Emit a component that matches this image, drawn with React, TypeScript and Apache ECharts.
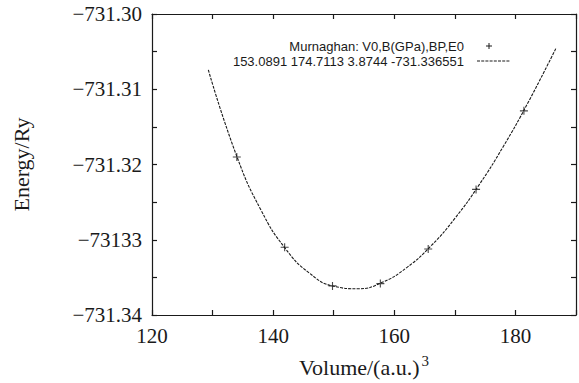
import React, { useEffect, useRef } from "react";
import * as echarts from "echarts";

// Calculated total energies (Ry) at each cell volume (a.u.^3)
const volumes = [134.0, 141.9, 149.8, 157.7, 165.6, 173.5, 181.4];
const energies = [
  -731.31901, -731.33099, -731.33613, -731.33583, -731.33122, -731.32331,
  -731.31287,
];

// Murnaghan equation-of-state fit, sampled along the curve
const fitVolumes = [
  129.3, 134, 138, 142, 146, 150, 154, 158, 162, 166, 170, 174, 178, 182,
  186.66,
];
const fitEnergies = [
  -731.30743, -731.31891, -731.32607, -731.33115, -731.33444, -731.33617,
  -731.33651, -731.33566, -731.33373, -731.33087, -731.32716, -731.32271,
  -731.3176, -731.3119, -731.3046,
];

const seriesNames = [
  "Murnaghan: V0,B(GPa),BP,E0",
  "153.0891 174.7113 3.8744 -731.336551",
];

// Labels for the energy axis, bottom to top, one per 0.01 Ry
const yTickLabels = ["−731.34", "−73133", "−731.32", "−731.31", "−731.30"];

const serif = '"Liberation Serif", "Times New Roman", serif';
const sans = '"Liberation Sans", Arial, sans-serif';
const ink = "#1a1a1a";

const plusPath =
  "path://M3.45,0H4.55V3.45H8V4.55H4.55V8H3.45V4.55H0V3.45H3.45Z";

export default function App() {
  const ref = useRef<HTMLDivElement>(null);

  useEffect(() => {
    if (!ref.current) return;
    const chart = echarts.init(ref.current, undefined, { renderer: "svg" });

    const axisLine = { show: true, lineStyle: { color: ink, width: 1.2 } };
    const axisTick = {
      show: true,
      inside: true,
      length: 5,
      lineStyle: { color: ink, width: 1.2 },
    };

    const xBase = {
      type: "value" as const,
      min: 120,
      max: 190,
      interval: 10,
      axisLine,
      axisTick,
      splitLine: { show: false },
    };
    const yBase = {
      type: "value" as const,
      min: -731.34,
      max: -731.3,
      interval: 0.005,
      axisLine,
      axisTick,
      splitLine: { show: false },
    };

    chart.setOption({
      animation: false,
      backgroundColor: "#ffffff",
      grid: { left: 152, right: 2, top: 14, bottom: 65.3, containLabel: false },
      xAxis: [
        {
          ...xBase,
          position: "bottom",
          name: "{a|Volume/(a.u.)}{s|3}",
          nameLocation: "middle",
          nameGap: 38,
          nameTextStyle: {
            fontFamily: serif,
            fontSize: 22,
            color: ink,
            rich: {
              a: {
                fontFamily: serif,
                fontSize: 22,
                color: ink,
                lineHeight: 28,
                verticalAlign: "middle",
              },
              s: {
                fontFamily: serif,
                fontSize: 15,
                color: ink,
                lineHeight: 28,
                verticalAlign: "top",
                padding: [0, 0, 0, 2],
              },
            },
          },
          axisLabel: {
            margin: 10,
            fontFamily: serif,
            fontSize: 21,
            color: ink,
            formatter: (v: number) =>
              Math.round(v) % 20 === 0 ? String(Math.round(v)) : "",
          },
        },
        {
          ...xBase,
          position: "top",
          axisLabel: { show: false },
        },
      ],
      yAxis: [
        {
          ...yBase,
          position: "left",
          name: "Energy/Ry",
          nameLocation: "middle",
          nameRotate: 90,
          nameGap: 120,
          nameTextStyle: { fontFamily: serif, fontSize: 22, color: ink },
          axisLabel: {
            margin: 10,
            fontFamily: serif,
            fontSize: 21,
            color: ink,
            formatter: (v: number) => {
              const k = Math.round((v - yBase.min) / 0.005);
              return k % 2 === 0 ? yTickLabels[k / 2] ?? "" : "";
            },
          },
        },
        {
          ...yBase,
          position: "right",
          axisLabel: { show: false },
        },
      ],
      series: [
        {
          name: seriesNames[1],
          type: "line",
          xAxisIndex: 0,
          yAxisIndex: 0,
          data: fitVolumes.map((v, i) => [v, fitEnergies[i]]),
          smooth: 0.5,
          showSymbol: false,
          lineStyle: { color: ink, width: 1.1, type: [3, 1.2] },
        },
        {
          name: seriesNames[0],
          type: "scatter",
          xAxisIndex: 0,
          yAxisIndex: 0,
          data: volumes.map((v, i) => [v, energies[i]]),
          symbol: plusPath,
          symbolSize: 8,
          itemStyle: { color: ink },
        },
      ],
      graphic: [
        {
          type: "text",
          x: 464,
          y: 46,
          style: {
            text: seriesNames[0],
            align: "right",
            verticalAlign: "middle",
            font: `13px ${sans}`,
            fill: ink,
          },
        },
        {
          type: "text",
          x: 464,
          y: 61,
          style: {
            text: seriesNames[1],
            align: "right",
            verticalAlign: "middle",
            font: `13px ${sans}`,
            fill: ink,
          },
        },
        {
          type: "line",
          shape: { x1: 486, y1: 46, x2: 492, y2: 46 },
          style: { stroke: ink, lineWidth: 1 },
        },
        {
          type: "line",
          shape: { x1: 489, y1: 43, x2: 489, y2: 49 },
          style: { stroke: ink, lineWidth: 1 },
        },
        {
          type: "line",
          shape: { x1: 477, y1: 61, x2: 510, y2: 61 },
          style: { stroke: ink, lineWidth: 1.1, lineDash: [3, 1.2] },
        },
      ],
    });

    return () => chart.dispose();
  }, []);

  return (
    <div
      ref={ref}
      style={{
        position: "fixed",
        left: 0,
        top: 0,
        width: 579,
        height: 383,
      }}
    />
  );
}
